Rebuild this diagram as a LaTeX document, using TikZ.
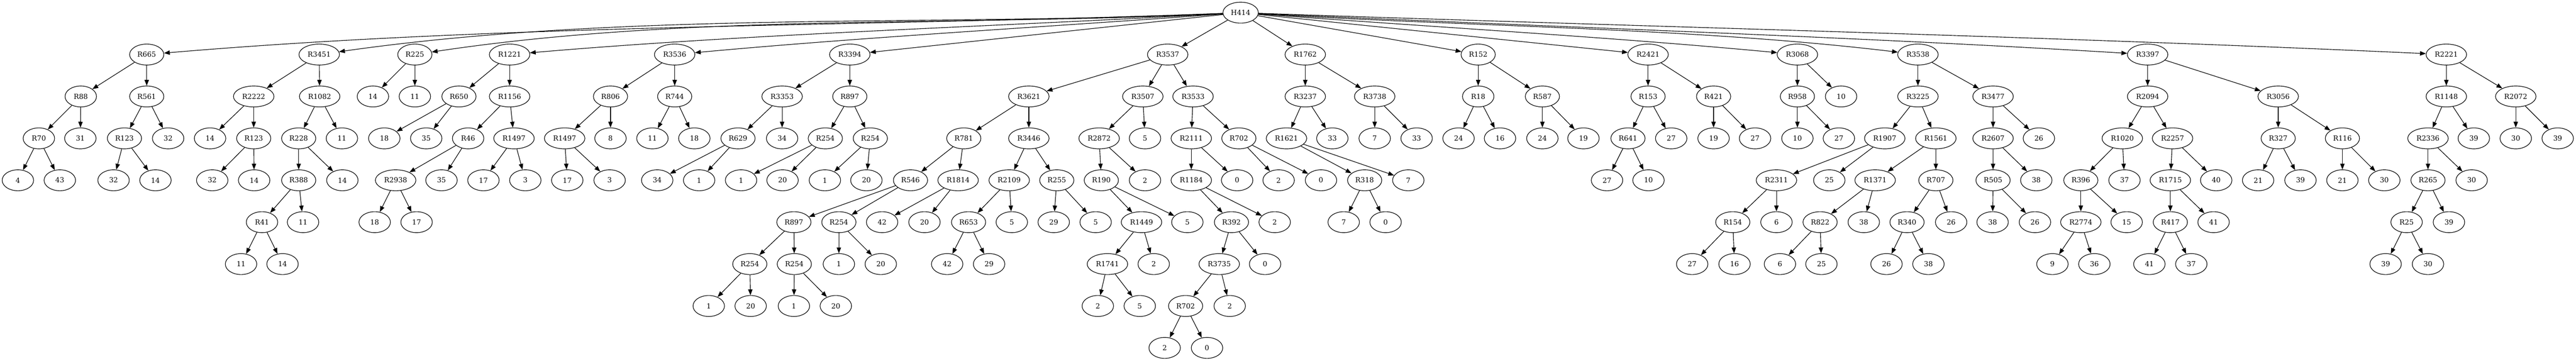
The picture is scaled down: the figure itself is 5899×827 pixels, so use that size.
\documentclass[tikz,border=0pt]{standalone}
\usepackage{fontspec}
\setmainfont{DejaVu Serif}
\usetikzlibrary{arrows.meta,shapes.geometric}
\begin{document}
\begin{tikzpicture}[x=0.75pt,y=-0.75pt,
		nd/.style={draw,ellipse,line width=1pt,minimum width=54pt,minimum height=36pt,inner xsep=4.8pt,inner ysep=2pt,font=\fontsize{12}{14}\selectfont},
		arr/.style={line width=1pt,-{Triangle[length=10pt,width=7.5pt]}}]
				%defs
				\def\yo{29}
				\def\ya{125}
				\def\yb{221}
				\def\yc{317}
				\def\yd{413}
				\def\ye{509}
				\def\yf{605}
				\def\yg{701}
				\def\yh{797}
				\useasboundingbox (0,0) rectangle (5899,827);
				%root
				\node[nd] (h414) at (2841,\yo) {H414};
				%level 1
				\node[nd] (r665) at (336,\ya) {R665};
				\node[nd] (r3451) at (731,\ya) {R3451};
				\node[nd] (r225) at (950,\ya) {R225};
				\node[nd] (r1221) at (1167,\ya) {R1221};
				\node[nd] (r3536) at (1545,\ya) {R3536};
				\node[nd] (r3394) at (1946,\ya) {R3394};
				\node[nd] (r3537) at (2674,\ya) {R3537};
				\node[nd] (r1762) at (2989,\ya) {R1762};
				\node[nd] (r152) at (3385,\ya) {R152};
				\node[nd] (r2421) at (3774,\ya) {R2421};
				\node[nd] (r3068) at (4116,\ya) {R3068};
				\node[nd] (r3538) at (4392,\ya) {R3538};
				\node[nd] (r3397) at (4918,\ya) {R3397};
				\node[nd] (r2221) at (5602,\ya) {R2221};
				%level 2
				\node[nd] (r88) at (185,\yb) {R88};
				\node[nd] (r561) at (336,\yb) {R561};
				\node[nd] (r2222) at (581,\yb) {R2222};
				\node[nd] (r1082) at (732,\yb) {R1082};
				\node[nd] (r225a) at (854,\yb) {14};
				\node[nd] (r225b) at (950,\yb) {11};
				\node[nd] (r650) at (1051,\yb) {R650};
				\node[nd] (r1156) at (1167,\yb) {R1156};
				\node[nd] (r806) at (1398,\yb) {R806};
				\node[nd] (r744) at (1545,\yb) {R744};
				\node[nd] (r3353) at (1791,\yb) {R3353};
				\node[nd] (r897) at (1946,\yb) {R897};
				\node[nd] (r3621) at (2356,\yb) {R3621};
				\node[nd] (r3507) at (2617,\yb) {R3507};
				\node[nd] (r3533) at (2732,\yb) {R3533};
				\node[nd] (r3237) at (2989,\yb) {R3237};
				\node[nd] (r3738) at (3148,\yb) {R3738};
				\node[nd] (r18) at (3385,\yb) {R18};
				\node[nd] (r587) at (3532,\yb) {R587};
				\node[nd] (r153) at (3774,\yb) {R153};
				\node[nd] (r421) at (3924,\yb) {R421};
				\node[nd] (r958) at (4116,\yb) {R958};
				\node[nd] (r3068b) at (4216,\yb) {10};
				\node[nd] (r3225) at (4392,\yb) {R3225};
				\node[nd] (r3477) at (4564,\yb) {R3477};
				\node[nd] (r2094) at (4918,\yb) {R2094};
				\node[nd] (r3056) at (5217,\yb) {R3056};
				\node[nd] (r1148) at (5602,\yb) {R1148};
				\node[nd] (r2072) at (5761,\yb) {R2072};
				%level 3
				\node[nd] (r70) at (89,\yc) {R70};
				\node[nd] (r88b) at (184,\yc) {31};
				\node[nd] (r123) at (285,\yc) {R123};
				\node[nd] (r561b) at (385,\yc) {32};
				\node[nd] (r2222a) at (481,\yc) {14};
				\node[nd] (r123x) at (581,\yc) {R123};
				\node[nd] (r228) at (684,\yc) {R228};
				\node[nd] (r1082b) at (783,\yc) {11};
				\node[nd] (r650a) at (880,\yc) {18};
				\node[nd] (r650b) at (976,\yc) {35};
				\node[nd] (r46) at (1072,\yc) {R46};
				\node[nd] (r1497) at (1177,\yc) {R1497};
				\node[nd] (r1497x) at (1293,\yc) {R1497};
				\node[nd] (r806b) at (1398,\yc) {8};
				\node[nd] (r744a) at (1494,\yc) {11};
				\node[nd] (r744b) at (1590,\yc) {18};
				\node[nd] (r629) at (1690,\yc) {R629};
				\node[nd] (r3353b) at (1791,\yc) {34};
				\node[nd] (r254p) at (1890,\yc) {R254};
				\node[nd] (r254q) at (1993,\yc) {R254};
				\node[nd] (r781) at (2207,\yc) {R781};
				\node[nd] (r3446) at (2356,\yc) {R3446};
				\node[nd] (r2872) at (2517,\yc) {R2872};
				\node[nd] (r3507b) at (2622,\yc) {5};
				\node[nd] (r2111) at (2728,\yc) {R2111};
				\node[nd] (r702) at (2837,\yc) {R702};
				\node[nd] (r1621) at (2946,\yc) {R1621};
				\node[nd] (r3237b) at (3051,\yc) {33};
				\node[nd] (r3738a) at (3148,\yc) {7};
				\node[nd] (r3738b) at (3244,\yc) {33};
				\node[nd] (r18a) at (3340,\yc) {24};
				\node[nd] (r18b) at (3435,\yc) {16};
				\node[nd] (r587a) at (3532,\yc) {24};
				\node[nd] (r587b) at (3626,\yc) {19};
				\node[nd] (r641) at (3728,\yc) {R641};
				\node[nd] (r153b) at (3827,\yc) {27};
				\node[nd] (r421a) at (3924,\yc) {19};
				\node[nd] (r421b) at (4019,\yc) {27};
				\node[nd] (r958a) at (4116,\yc) {10};
				\node[nd] (r958b) at (4211,\yc) {27};
				\node[nd] (r1907) at (4316,\yc) {R1907};
				\node[nd] (r1561) at (4433,\yc) {R1561};
				\node[nd] (r2607) at (4564,\yc) {R2607};
				\node[nd] (r3477b) at (4669,\yc) {26};
				\node[nd] (r1020) at (4860,\yc) {R1020};
				\node[nd] (r2257) at (4975,\yc) {R2257};
				\node[nd] (r327) at (5217,\yc) {R327};
				\node[nd] (r116) at (5364,\yc) {R116};
				\node[nd] (r2336) at (5560,\yc) {R2336};
				\node[nd] (r1148b) at (5665,\yc) {39};
				\node[nd] (r2072a) at (5761,\yc) {30};
				\node[nd] (r2072b) at (5857,\yc) {39};
				%level 4
				\node[nd] (r70a) at (41,\yd) {4};
				\node[nd] (r70b) at (137,\yd) {43};
				\node[nd] (r123a) at (260,\yd) {32};
				\node[nd] (r123b) at (356,\yd) {14};
				\node[nd] (r123xa) at (486,\yd) {32};
				\node[nd] (r123xb) at (582,\yd) {14};
				\node[nd] (r388) at (684,\yd) {R388};
				\node[nd] (r228b) at (784,\yd) {14};
				\node[nd] (r2938) at (906,\yd) {R2938};
				\node[nd] (r46b) at (1011,\yd) {35};
				\node[nd] (r1497a) at (1107,\yd) {17};
				\node[nd] (r1497b) at (1203,\yd) {3};
				\node[nd] (r1497xa) at (1299,\yd) {17};
				\node[nd] (r1497xb) at (1396,\yd) {3};
				\node[nd] (r629a) at (1505,\yd) {34};
				\node[nd] (r629b) at (1601,\yd) {1};
				\node[nd] (r254pa) at (1697,\yd) {1};
				\node[nd] (r254pb) at (1792,\yd) {20};
				\node[nd] (r254qa) at (1889,\yd) {1};
				\node[nd] (r254qb) at (1984,\yd) {20};
				\node[nd] (r546) at (2085,\yd) {R546};
				\node[nd] (r1814) at (2194,\yd) {R1814};
				\node[nd] (r2109) at (2311,\yd) {R2109};
				\node[nd] (r255) at (2420,\yd) {R255};
				\node[nd] (r190) at (2522,\yd) {R190};
				\node[nd] (r2872b) at (2622,\yd) {2};
				\node[nd] (r1184) at (2728,\yd) {R1184};
				\node[nd] (r2111b) at (2833,\yd) {0};
				\node[nd] (r702a) at (2928,\yd) {2};
				\node[nd] (r702b) at (3025,\yd) {0};
				\node[nd] (r318) at (3125,\yd) {R318};
				\node[nd] (r1621b) at (3225,\yd) {7};
				\node[nd] (r641a) at (3680,\yd) {27};
				\node[nd] (r641b) at (3775,\yd) {10};
				\node[nd] (r2311) at (4068,\yd) {R2311};
				\node[nd] (r1907b) at (4189,\yd) {25};
				\node[nd] (r1371) at (4294,\yd) {R1371};
				\node[nd] (r707) at (4433,\yd) {R707};
				\node[nd] (r505) at (4564,\yd) {R505};
				\node[nd] (r2607b) at (4663,\yd) {38};
				\node[nd] (r396) at (4765,\yd) {R396};
				\node[nd] (r1020b) at (4865,\yd) {37};
				\node[nd] (r1715) at (4970,\yd) {R1715};
				\node[nd] (r2257b) at (5075,\yd) {40};
				\node[nd] (r327a) at (5171,\yd) {21};
				\node[nd] (r327b) at (5268,\yd) {39};
				\node[nd] (r116a) at (5364,\yd) {21};
				\node[nd] (r116b) at (5460,\yd) {30};
				\node[nd] (r265) at (5560,\yd) {R265};
				\node[nd] (r2336b) at (5660,\yd) {30};
				%level 5
				\node[nd] (r41) at (600,\ye) {R41};
				\node[nd] (r388b) at (694,\ye) {11};
				\node[nd] (r2938a) at (858,\ye) {18};
				\node[nd] (r2938b) at (954,\ye) {17};
				\node[nd] (r897x) at (1818,\ye) {R897};
				\node[nd] (r254r) at (1921,\ye) {R254};
				\node[nd] (r1814a) at (2020,\ye) {42};
				\node[nd] (r1814b) at (2117,\ye) {20};
				\node[nd] (r653) at (2218,\ye) {R653};
				\node[nd] (r2109b) at (2317,\ye) {5};
				\node[nd] (r255a) at (2413,\ye) {29};
				\node[nd] (r255b) at (2509,\ye) {5};
				\node[nd] (r1449) at (2614,\ye) {R1449};
				\node[nd] (r190b) at (2719,\ye) {5};
				\node[nd] (r392) at (2820,\ye) {R392};
				\node[nd] (r1184b) at (2919,\ye) {2};
				\node[nd] (r318a) at (3077,\ye) {7};
				\node[nd] (r318b) at (3173,\ye) {0};
				\node[nd] (r154) at (3968,\ye) {R154};
				\node[nd] (r2311b) at (4068,\ye) {6};
				\node[nd] (r822) at (4168,\ye) {R822};
				\node[nd] (r1371b) at (4268,\ye) {38};
				\node[nd] (r340) at (4367,\ye) {R340};
				\node[nd] (r707b) at (4468,\ye) {26};
				\node[nd] (r505a) at (4563,\ye) {38};
				\node[nd] (r505b) at (4660,\ye) {26};
				\node[nd] (r2774) at (4765,\ye) {R2774};
				\node[nd] (r396b) at (4870,\ye) {15};
				\node[nd] (r417) at (4970,\ye) {R417};
				\node[nd] (r1715b) at (5069,\ye) {41};
				\node[nd] (r25) at (5511,\ye) {R25};
				\node[nd] (r265b) at (5608,\ye) {39};
				%level 6
				\node[nd] (r41a) at (552,\yf) {11};
				\node[nd] (r41b) at (647,\yf) {14};
				\node[nd] (r254s) at (1717,\yf) {R254};
				\node[nd] (r254t) at (1819,\yf) {R254};
				\node[nd] (r254ra) at (1921,\yf) {1};
				\node[nd] (r254rb) at (2017,\yf) {20};
				\node[nd] (r653a) at (2169,\yf) {42};
				\node[nd] (r653b) at (2265,\yf) {29};
				\node[nd] (r1741) at (2536,\yf) {R1741};
				\node[nd] (r1449b) at (2642,\yf) {2};
				\node[nd] (r3735) at (2792,\yf) {R3735};
				\node[nd] (r392b) at (2897,\yf) {0};
				\node[nd] (r154a) at (3875,\yf) {27};
				\node[nd] (r154b) at (3972,\yf) {16};
				\node[nd] (r822a) at (4076,\yf) {6};
				\node[nd] (r822b) at (4171,\yf) {25};
				\node[nd] (r340a) at (4320,\yf) {26};
				\node[nd] (r340b) at (4416,\yf) {38};
				\node[nd] (r2774a) at (4700,\yf) {9};
				\node[nd] (r2774b) at (4796,\yf) {36};
				\node[nd] (r417a) at (4922,\yf) {41};
				\node[nd] (r417b) at (5018,\yf) {37};
				\node[nd] (r25a) at (5463,\yf) {39};
				\node[nd] (r25b) at (5560,\yf) {30};
				%level 7
				\node[nd] (r254sa) at (1623,\yg) {1};
				\node[nd] (r254sb) at (1719,\yg) {20};
				\node[nd] (r254ta) at (1818,\yg) {1};
				\node[nd] (r254tb) at (1914,\yg) {20};
				\node[nd] (r1741a) at (2514,\yg) {2};
				\node[nd] (r1741b) at (2610,\yg) {5};
				\node[nd] (r702x) at (2715,\yg) {R702};
				\node[nd] (r3735b) at (2816,\yg) {2};
				%level 8
				\node[nd] (r702xa) at (2667,\yh) {2};
				\node[nd] (r702xb) at (2764,\yh) {0};
				%lines from the root
				\draw[arr] (h414) .. controls (2006,61) and (1171,54) .. (r665);
				\draw[arr] (h414) .. controls (2138,61) and (1434,25) .. (r3451);
				\draw[arr] (h414) .. controls (2211,61) and (1580,30) .. (r225);
				\draw[arr] (h414) .. controls (2283,61) and (1725,77) .. (r1221);
				\draw[arr] (h414) .. controls (2409,61) and (1977,85) .. (r3536);
				\draw[arr] (h414) -- (r3394);
				\draw[arr] (h414) -- (r3537);
				\draw[arr] (h414) -- (r1762);
				\draw[arr] (h414) -- (r152);
				\draw[arr] (h414) -- (r2421);
				\draw[arr] (h414) .. controls (3266,61) and (3691,85) .. (r3068);
				\draw[arr] (h414) .. controls (3358,61) and (3875,63) .. (r3538);
				\draw[arr] (h414) .. controls (3533,61) and (4226,83) .. (r3397);
				\draw[arr] (h414) .. controls (3761,61) and (4682,83) .. (r2221);
				%lines, left part
				\draw[arr] (r665) -- (r88);
				\draw[arr] (r665) -- (r561);
				\draw[arr] (r88) -- (r70);
				\draw[arr] (r88) -- (r88b);
				\draw[arr] (r70) -- (r70a);
				\draw[arr] (r70) -- (r70b);
				\draw[arr] (r561) -- (r123);
				\draw[arr] (r561) -- (r561b);
				\draw[arr] (r123) -- (r123a);
				\draw[arr] (r123) -- (r123b);
				\draw[arr] (r3451) -- (r2222);
				\draw[arr] (r3451) -- (r1082);
				\draw[arr] (r2222) -- (r2222a);
				\draw[arr] (r2222) -- (r123x);
				\draw[arr] (r123x) -- (r123xa);
				\draw[arr] (r123x) -- (r123xb);
				\draw[arr] (r1082) -- (r228);
				\draw[arr] (r1082) -- (r1082b);
				\draw[arr] (r228) -- (r388);
				\draw[arr] (r228) -- (r228b);
				\draw[arr] (r388) -- (r41);
				\draw[arr] (r388) -- (r388b);
				\draw[arr] (r41) -- (r41a);
				\draw[arr] (r41) -- (r41b);
				\draw[arr] (r225) -- (r225a);
				\draw[arr] (r225) -- (r225b);
				\draw[arr] (r1221) -- (r650);
				\draw[arr] (r1221) -- (r1156);
				\draw[arr] (r650) -- (r650a);
				\draw[arr] (r650) -- (r650b);
				\draw[arr] (r1156) -- (r46);
				\draw[arr] (r1156) -- (r1497);
				\draw[arr] (r46) -- (r2938);
				\draw[arr] (r46) -- (r46b);
				\draw[arr] (r2938) -- (r2938a);
				\draw[arr] (r2938) -- (r2938b);
				\draw[arr] (r1497) -- (r1497a);
				\draw[arr] (r1497) -- (r1497b);
				\draw[arr] (r3536) -- (r806);
				\draw[arr] (r3536) -- (r744);
				\draw[arr] (r806) -- (r1497x);
				\draw[arr] (r806) -- (r806b);
				\draw[arr] (r1497x) -- (r1497xa);
				\draw[arr] (r1497x) -- (r1497xb);
				\draw[arr] (r744) -- (r744a);
				\draw[arr] (r744) -- (r744b);
				\draw[arr] (r3394) -- (r3353);
				\draw[arr] (r3394) -- (r897);
				\draw[arr] (r3353) -- (r629);
				\draw[arr] (r3353) -- (r3353b);
				\draw[arr] (r629) -- (r629a);
				\draw[arr] (r629) -- (r629b);
				\draw[arr] (r897) -- (r254p);
				\draw[arr] (r897) -- (r254q);
				\draw[arr] (r254p) -- (r254pa);
				\draw[arr] (r254p) -- (r254pb);
				\draw[arr] (r254q) -- (r254qa);
				\draw[arr] (r254q) -- (r254qb);
				%lines, middle part
				\draw[arr] (r3537) -- (r3621);
				\draw[arr] (r3537) -- (r3507);
				\draw[arr] (r3537) -- (r3533);
				\draw[arr] (r3621) -- (r781);
				\draw[arr] (r3621) -- (r3446);
				\draw[arr] (r781) -- (r546);
				\draw[arr] (r781) -- (r1814);
				\draw[arr] (r546) -- (r897x);
				\draw[arr] (r546) -- (r254r);
				\draw[arr] (r897x) -- (r254s);
				\draw[arr] (r897x) -- (r254t);
				\draw[arr] (r254s) -- (r254sa);
				\draw[arr] (r254s) -- (r254sb);
				\draw[arr] (r254t) -- (r254ta);
				\draw[arr] (r254t) -- (r254tb);
				\draw[arr] (r254r) -- (r254ra);
				\draw[arr] (r254r) -- (r254rb);
				\draw[arr] (r1814) -- (r1814a);
				\draw[arr] (r1814) -- (r1814b);
				\draw[arr] (r3446) -- (r2109);
				\draw[arr] (r3446) -- (r255);
				\draw[arr] (r2109) -- (r653);
				\draw[arr] (r2109) -- (r2109b);
				\draw[arr] (r653) -- (r653a);
				\draw[arr] (r653) -- (r653b);
				\draw[arr] (r255) -- (r255a);
				\draw[arr] (r255) -- (r255b);
				\draw[arr] (r3507) -- (r2872);
				\draw[arr] (r3507) -- (r3507b);
				\draw[arr] (r2872) -- (r190);
				\draw[arr] (r2872) -- (r2872b);
				\draw[arr] (r190) -- (r1449);
				\draw[arr] (r190) -- (r190b);
				\draw[arr] (r1449) -- (r1741);
				\draw[arr] (r1449) -- (r1449b);
				\draw[arr] (r1741) -- (r1741a);
				\draw[arr] (r1741) -- (r1741b);
				\draw[arr] (r3533) -- (r2111);
				\draw[arr] (r3533) -- (r702);
				\draw[arr] (r2111) -- (r1184);
				\draw[arr] (r2111) -- (r2111b);
				\draw[arr] (r1184) -- (r392);
				\draw[arr] (r1184) -- (r1184b);
				\draw[arr] (r392) -- (r3735);
				\draw[arr] (r392) -- (r392b);
				\draw[arr] (r3735) -- (r702x);
				\draw[arr] (r3735) -- (r3735b);
				\draw[arr] (r702x) -- (r702xa);
				\draw[arr] (r702x) -- (r702xb);
				\draw[arr] (r702) -- (r702a);
				\draw[arr] (r702) -- (r702b);
				\draw[arr] (r1762) -- (r3237);
				\draw[arr] (r1762) -- (r3738);
				\draw[arr] (r3237) -- (r1621);
				\draw[arr] (r3237) -- (r3237b);
				\draw[arr] (r1621) -- (r318);
				\draw[arr] (r1621) -- (r1621b);
				\draw[arr] (r318) -- (r318a);
				\draw[arr] (r318) -- (r318b);
				\draw[arr] (r3738) -- (r3738a);
				\draw[arr] (r3738) -- (r3738b);
				\draw[arr] (r152) -- (r18);
				\draw[arr] (r152) -- (r587);
				\draw[arr] (r18) -- (r18a);
				\draw[arr] (r18) -- (r18b);
				\draw[arr] (r587) -- (r587a);
				\draw[arr] (r587) -- (r587b);
				%lines, right part
				\draw[arr] (r2421) -- (r153);
				\draw[arr] (r2421) -- (r421);
				\draw[arr] (r153) -- (r641);
				\draw[arr] (r153) -- (r153b);
				\draw[arr] (r641) -- (r641a);
				\draw[arr] (r641) -- (r641b);
				\draw[arr] (r421) -- (r421a);
				\draw[arr] (r421) -- (r421b);
				\draw[arr] (r3068) -- (r958);
				\draw[arr] (r3068) -- (r3068b);
				\draw[arr] (r958) -- (r958a);
				\draw[arr] (r958) -- (r958b);
				\draw[arr] (r3538) -- (r3225);
				\draw[arr] (r3538) -- (r3477);
				\draw[arr] (r3225) -- (r1907);
				\draw[arr] (r3225) -- (r1561);
				\draw[arr] (r1907) -- (r2311);
				\draw[arr] (r1907) -- (r1907b);
				\draw[arr] (r2311) -- (r154);
				\draw[arr] (r2311) -- (r2311b);
				\draw[arr] (r154) -- (r154a);
				\draw[arr] (r154) -- (r154b);
				\draw[arr] (r1561) -- (r1371);
				\draw[arr] (r1561) -- (r707);
				\draw[arr] (r1371) -- (r822);
				\draw[arr] (r1371) -- (r1371b);
				\draw[arr] (r822) -- (r822a);
				\draw[arr] (r822) -- (r822b);
				\draw[arr] (r707) -- (r340);
				\draw[arr] (r707) -- (r707b);
				\draw[arr] (r340) -- (r340a);
				\draw[arr] (r340) -- (r340b);
				\draw[arr] (r3477) -- (r2607);
				\draw[arr] (r3477) -- (r3477b);
				\draw[arr] (r2607) -- (r505);
				\draw[arr] (r2607) -- (r2607b);
				\draw[arr] (r505) -- (r505a);
				\draw[arr] (r505) -- (r505b);
				\draw[arr] (r3397) -- (r2094);
				\draw[arr] (r3397) -- (r3056);
				\draw[arr] (r2094) -- (r1020);
				\draw[arr] (r2094) -- (r2257);
				\draw[arr] (r1020) -- (r396);
				\draw[arr] (r1020) -- (r1020b);
				\draw[arr] (r396) -- (r2774);
				\draw[arr] (r396) -- (r396b);
				\draw[arr] (r2774) -- (r2774a);
				\draw[arr] (r2774) -- (r2774b);
				\draw[arr] (r2257) -- (r1715);
				\draw[arr] (r2257) -- (r2257b);
				\draw[arr] (r1715) -- (r417);
				\draw[arr] (r1715) -- (r1715b);
				\draw[arr] (r417) -- (r417a);
				\draw[arr] (r417) -- (r417b);
				\draw[arr] (r3056) -- (r327);
				\draw[arr] (r3056) -- (r116);
				\draw[arr] (r327) -- (r327a);
				\draw[arr] (r327) -- (r327b);
				\draw[arr] (r116) -- (r116a);
				\draw[arr] (r116) -- (r116b);
				\draw[arr] (r2221) -- (r1148);
				\draw[arr] (r2221) -- (r2072);
				\draw[arr] (r1148) -- (r2336);
				\draw[arr] (r1148) -- (r1148b);
				\draw[arr] (r2336) -- (r265);
				\draw[arr] (r2336) -- (r2336b);
				\draw[arr] (r265) -- (r25);
				\draw[arr] (r265) -- (r265b);
				\draw[arr] (r25) -- (r25a);
				\draw[arr] (r25) -- (r25b);
				\draw[arr] (r2072) -- (r2072a);
				\draw[arr] (r2072) -- (r2072b);
\end{tikzpicture}
\end{document}
